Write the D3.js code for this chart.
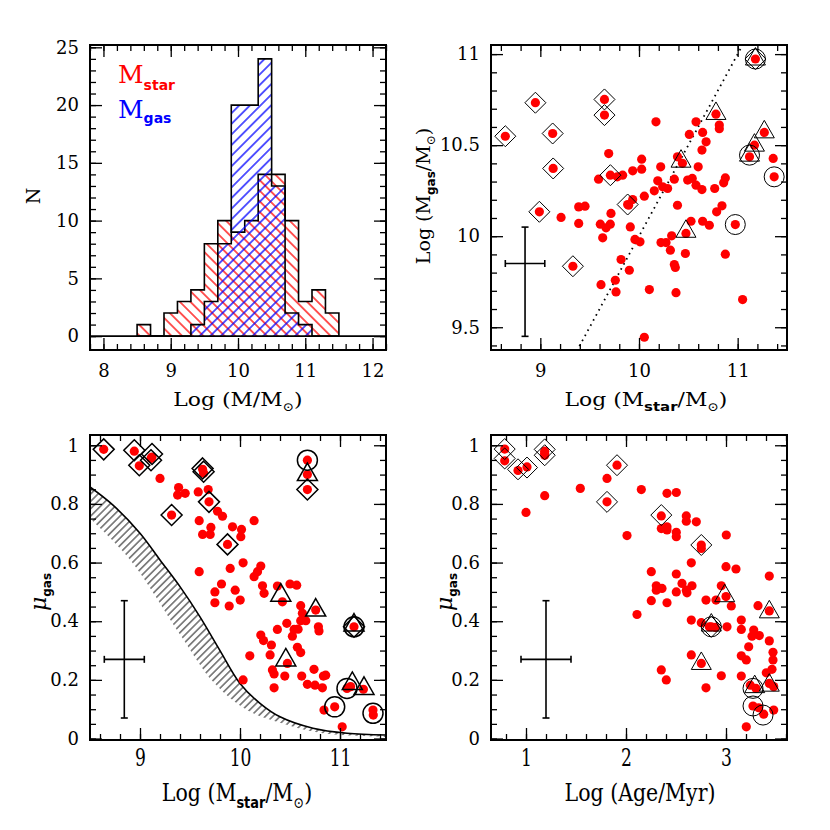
<!DOCTYPE html>
<html>
<head>
<meta charset="utf-8">
<script src="https://cdn.jsdelivr.net/npm/d3@7"></script>
<style>
  body { margin: 0; background: #fff; }
</style>
</head>
<body>
<svg id="chart" width="830" height="830"></svg>
<script>
// ---------- data ----------
// histogram (bin left edges, width 0.2 dex)
var binLeft = [8.5, 8.7, 8.9, 9.1, 9.3, 9.5, 9.7, 9.9, 10.1, 10.3, 10.5, 10.7, 10.9, 11.1, 11.3];
var binWidth = 0.2;
var starCounts = [1, 0, 2, 3, 4, 8, 10, 9, 10, 14, 14, 10, 3, 4, 2];
var gasCounts  = [0, 0, 0, 0, 1, 3, 8, 20, 20, 24, 13, 2, 1, 0, 0];

// Log Mstar vs Log Mgas
var mgasDots = [[8.645,10.549],[8.95,10.733],[9.125,10.564],[9.13,10.372],[8.99,10.134],[9.33,9.835],[9.65,10.751],[9.65,10.665],
  [9.71,10.335],[9.885,10.174],[11.18,10.973],[10.78,10.67],[10.44,10.40],[10.476,10.015],[11.17,10.5],[11.27,10.57],[11.12,10.436],
  [11.37,10.326],[10.976,10.064],[10.172,10.628],[9.693,10.454],[10.027,10.423],[10.027,10.368],[9.936,10.359],[9.834,10.335],
  [9.78,10.326],[9.59,10.313],[10.22,10.381],[10.39,10.436],[10.578,10.628],[10.51,10.559],[10.645,10.57],[10.68,10.518],
  [10.638,10.473],[10.6,10.381],[10.814,10.61],[10.814,10.59],[10.358,10.313],[10.19,10.304],[10.24,10.271],[10.155,10.249],
  [10.29,10.262],[10.493,10.308],[10.54,10.317],[10.578,10.28],[10.638,10.256],[10.875,10.32],[10.858,10.293],[10.767,10.262],
  [10.054,10.22],[9.936,10.201],[9.895,10.17],[10.39,10.17],[10.841,10.167],[10.787,10.134],[9.389,10.161],[9.453,10.165],
  [9.21,10.103],[9.389,10.07],[9.716,10.125],[9.608,10.066],[9.709,10.066],[9.666,10.046],[9.912,10.051],[9.632,9.991],
  [9.959,9.982],[10.01,9.969],[10.223,9.965],[10.274,9.965],[10.331,10.002],[10.318,9.923],[10.527,10.082],[10.645,10.082],
  [10.713,10.06],[10.47,9.905],[10.875,9.901],[10.358,9.844],[10.368,9.828],[9.818,9.872],[9.902,9.813],[9.76,9.758],
  [9.615,9.734],[9.767,9.694],[10.105,9.707],[10.375,9.69],[11.05,9.652],[10.054,9.445],[11.36,10.427]];
var mgasDiamonds = [[8.645,10.549],[8.95,10.733],[9.125,10.564],[9.13,10.372],[8.99,10.134],[9.33,9.835],[9.65,10.751],
  [9.65,10.665],[9.71,10.335],[9.885,10.174],[11.18,10.973]];
var mgasTriangles = [[10.78,10.674],[10.426,10.412],[10.476,10.027],[11.17,10.5],[11.27,10.573],[11.12,10.445],[11.18,10.973]];
var mgasCircles = [[11.12,10.445],[11.37,10.326],[10.976,10.064],[11.18,10.973]];
var mgasError = {x: 8.845, xlo: 8.645, xhi: 9.045, y: 9.85, ylo: 9.45, yhi: 10.05};
var oneToOne = [9.2, 11.2];

// Log Mstar vs mu_gas
var muMassDots = [[8.637,0.986],[8.943,0.98],[8.993,0.93],[9.12,0.96],[9.11,0.955],[9.626,0.918],[9.636,0.905],[9.69,0.807],
  [9.316,0.762],[9.875,0.662],[10.674,0.849],[11.14,0.381],[10.674,0.949],[10.674,0.9],[9.2,0.887],[9.386,0.856],[9.376,0.83],
  [9.452,0.836],[9.582,0.841],[9.682,0.849],[9.775,0.775],[9.825,0.758],[9.592,0.743],[9.709,0.72],[9.626,0.696],[9.702,0.696],
  [9.925,0.722],[10.015,0.713],[10.008,0.688],[10.141,0.743],[10.031,0.599],[9.902,0.58],[9.592,0.569],[10.208,0.588],
  [10.175,0.569],[10.141,0.552],[9.815,0.527],[9.749,0.5],[9.952,0.506],[10.225,0.521],[10.241,0.495],[10.002,0.472],
  [9.749,0.463],[9.892,0.452],[10.374,0.52],[10.5,0.527],[10.567,0.523],[10.424,0.466],[10.607,0.453],[10.624,0.427],
  [10.658,0.402],[10.607,0.402],[10.468,0.393],[10.541,0.372],[10.581,0.373],[10.374,0.372],[10.524,0.349],[10.784,0.381],
  [10.79,0.367],[10.208,0.353],[10.235,0.334],[10.314,0.319],[10.574,0.311],[10.607,0.293],[10.301,0.285],[10.098,0.282],
  [10.474,0.256],[10.324,0.234],[10.341,0.22],[10.448,0.213],[10.617,0.213],[10.74,0.236],[10.834,0.213],[10.857,0.216],
  [10.674,0.185],[10.75,0.182],[10.824,0.173],[10.341,0.173],[10.031,0.2],[10.84,0.097],[10.947,0.108],[11.022,0.04],
  [11.07,0.171],[11.106,0.177],[11.234,0.168],[11.33,0.097],[11.333,0.08],[10.757,0.438]];
var muMassDiamonds = [[8.637,0.986],[8.943,0.983],[8.993,0.932],[9.12,0.97],[9.11,0.949],[9.626,0.921],[9.636,0.91],
  [9.69,0.807],[9.316,0.762],[9.875,0.662],[10.674,0.849],[11.14,0.381]];
var muMassTriangles = [[10.674,0.9],[10.408,0.489],[10.757,0.438],[10.458,0.268],[11.123,0.188],[11.24,0.171],[11.14,0.387]];
var muMassCircles = [[10.674,0.949],[11.14,0.381],[11.07,0.171],[10.947,0.108],[11.33,0.086]];
var muMassError = {x: 8.843, xlo: 8.643, xhi: 9.043, y: 0.27, ylo: 0.07, yhi: 0.47};
// model curve and lower edge of the hatched band
var modelMass = [8.5, 8.73, 9.0, 9.2, 9.4, 9.6, 9.8, 10.0, 10.2, 10.4, 10.73, 11.07, 11.46];
var modelMu   = [0.858, 0.796, 0.70, 0.609, 0.518, 0.415, 0.30, 0.188, 0.12, 0.074, 0.035, 0.018, 0.012];
var bandMass  = [8.5, 8.9, 9.41, 9.74, 10.07, 10.41, 10.74, 11.1, 11.46];
var bandMu    = [0.75, 0.61, 0.35, 0.19, 0.097, 0.053, 0.023, 0.01, 0.005];

// Log Age vs mu_gas
var muAgeDots = [[0.787,0.987],[0.787,0.947],[0.92,0.914],[1.01,0.926],[1.187,0.98],[1.187,0.966],[1.187,0.972],[1.543,0.853],
  [1.187,0.828],[1.0,0.771],[1.81,0.887],[1.91,0.932],[1.81,0.807],[2.153,0.849],[2.41,0.836],[2.503,0.839],[2.353,0.759],
  [2.01,0.692],[2.353,0.716],[2.41,0.722],[2.41,0.711],[2.503,0.703],[2.503,0.688],[2.603,0.759],[2.603,0.741],[2.703,0.739],
  [2.753,0.66],[2.753,0.648],[3.003,0.694],[2.653,0.599],[3.0,0.586],[3.1,0.578],[3.433,0.554],[2.253,0.569],[2.303,0.521],
  [2.303,0.506],[2.36,0.512],[2.503,0.561],[2.56,0.529],[2.603,0.506],[2.66,0.521],[2.503,0.5],[2.61,0.497],[2.253,0.47],
  [2.41,0.463],[2.8,0.472],[2.9,0.472],[2.953,0.521],[3.0,0.484],[3.053,0.452],[2.11,0.423],[3.32,0.453],[3.433,0.435],
  [2.653,0.404],[2.753,0.395],[2.833,0.381],[2.893,0.379],[3.01,0.381],[3.153,0.404],[3.153,0.372],[3.277,0.37],[3.26,0.349],
  [3.333,0.351],[3.433,0.333],[3.227,0.313],[3.153,0.282],[3.203,0.268],[3.47,0.294],[3.47,0.268],[3.46,0.236],[3.403,0.224],
  [2.653,0.285],[2.753,0.256],[2.353,0.234],[2.403,0.2],[2.953,0.214],[3.153,0.213],[2.8,0.173],[3.243,0.182],[3.3,0.171],
  [3.433,0.188],[3.477,0.177],[3.27,0.111],[3.327,0.105],[3.377,0.083],[3.477,0.097],[3.203,0.04],[2.853,0.381]];
var muAgeDiamonds = [[0.787,0.987],[0.787,0.955],[0.92,0.918],[1.01,0.924],[1.187,0.986],[1.187,0.966],[1.91,0.932],
  [1.81,0.807],[2.353,0.762],[2.753,0.66],[2.853,0.381]];
var muAgeTriangles = [[2.987,0.487],[2.753,0.256],[3.433,0.432],[3.287,0.177],[3.433,0.182],[2.853,0.387]];
var muAgeCircles = [[2.853,0.381],[3.27,0.111],[3.37,0.08],[3.27,0.171]];
var muAgeError = {x: 1.2, xlo: 0.95, xhi: 1.45, y: 0.27, ylo: 0.07, yhi: 0.47};

// ticks
var histXTicks = [8, 9, 10, 11, 12];
var histYTicks = [0, 5, 10, 15, 20, 25];
var massXTicks = [9, 10, 11];
var mgasYTicks = [9.5, 10, 10.5, 11];
var muTicks = [0, 0.2, 0.4, 0.6, 0.8, 1];
var ageXTicks = [1, 2, 3];

// ---------- drawing ----------
var svg = d3.select("#chart");
svg.append("rect").attr("width", 830).attr("height", 830).attr("fill", "#fff");
var defs = svg.append("defs");

function hatch(id, color, angle, gap, width) {
  var p = defs.append("pattern").attr("id", id).attr("patternUnits", "userSpaceOnUse")
    .attr("width", gap).attr("height", gap).attr("patternTransform", "rotate(" + angle + ")");
  p.append("line").attr("x1", gap / 2).attr("y1", 0).attr("x2", gap / 2).attr("y2", gap)
    .attr("stroke", color).attr("stroke-width", width);
}
hatch("redHatch", "#ff0000", -45, 7.5, 1.3);
hatch("blueHatch", "#0000ff", 45, 7.5, 1.3);
hatch("bandHatch", "#000", 45, 5.2, 0.9);

function clip(id, x, y) {
  defs.append("clipPath").attr("id", id).append("rect")
    .attr("x", x.range()[0]).attr("y", y.range()[1])
    .attr("width", x.range()[1] - x.range()[0]).attr("height", y.range()[0] - y.range()[1]);
}

var minor = function (a, b, s) { return d3.range(0, Math.round((b - a) / s) + 1).map(function (i) { return +(a + i * s).toFixed(3); }); };

function drawAxes(x, y, o) {
  var r = x.range(), t = y.range();
  var g = svg.append("g");
  function add(axis, tx, ty) {
    var a = g.append("g").attr("transform", "translate(" + tx + "," + ty + ")").call(axis);
    a.select(".domain").remove();
    a.selectAll("line").attr("stroke", "#000").attr("stroke-width", 1.3);
    return a;
  }
  add(d3.axisBottom(x).tickValues(o.xMinor).tickSize(-6).tickFormat(""), 0, t[0]);
  add(d3.axisTop(x).tickValues(o.xMinor).tickSize(-6).tickFormat(""), 0, t[1]);
  add(d3.axisLeft(y).tickValues(o.yMinor).tickSize(-6).tickFormat(""), r[0], 0);
  add(d3.axisRight(y).tickValues(o.yMinor).tickSize(-6).tickFormat(""), r[1], 0);
  var xb = add(d3.axisBottom(x).tickValues(o.xMajor).tickSize(-12).tickPadding(14).tickFormat(String), 0, t[0]);
  add(d3.axisTop(x).tickValues(o.xMajor).tickSize(-12).tickFormat(""), 0, t[1]);
  add(d3.axisLeft(y).tickValues(o.yMajor).tickSize(-12).tickPadding(11).tickFormat(String), r[0], 0);
  add(d3.axisRight(y).tickValues(o.yMajor).tickSize(-12).tickFormat(""), r[1], 0);
  g.selectAll("text").attr("font-family", "DejaVu Serif").attr("font-size", 18).attr("fill", "#000");
  if (o.stretch) {
    xb.selectAll("text").attr("transform", "scale(0.95,1.3)").attr("y", 7);
  }
  g.append("rect").attr("x", r[0]).attr("y", t[1]).attr("width", r[1] - r[0]).attr("height", t[0] - t[1])
    .attr("fill", "none").attr("stroke", "#000").attr("stroke-width", 2);
}

function label(tr, parts, size, color, anchor) {
  var t = svg.append("text").attr("transform", tr).attr("text-anchor", anchor || "middle")
    .attr("font-family", "DejaVu Serif").attr("font-size", size).attr("fill", color || "#000");
  var shift = 0;
  parts.forEach(function (p) {
    var s = t.append("tspan").text(p.t);
    var want = p.sub || 0;
    if (want !== shift) { s.attr("dy", want - shift); shift = want; }
    if (p.size) s.attr("font-size", p.size);
    if (p.sans) s.attr("font-family", "DejaVu Sans").attr("font-weight", "bold");
    if (p.italic) s.attr("font-style", "italic");
  });
  return t;
}

function scatter(x, y, cid, dots, diamonds, triangles, circles, sw) {
  var g = svg.append("g").attr("clip-path", "url(#" + cid + ")");
  g.selectAll(".dot").data(dots).enter().append("circle")
    .attr("cx", function (d) { return x(d[0]); }).attr("cy", function (d) { return y(d[1]); })
    .attr("r", 4.6).attr("fill", "#ff0000");
  g.selectAll(".dia").data(diamonds).enter().append("path")
    .attr("d", "M0,-10.5L10.5,0L0,10.5L-10.5,0Z")
    .attr("transform", function (d) { return "translate(" + x(d[0]) + "," + y(d[1]) + ")"; })
    .attr("fill", "none").attr("stroke", "#000").attr("stroke-width", sw);
  g.selectAll(".tri").data(triangles).enter().append("path")
    .attr("d", "M0,-11.5L10,6L-10,6Z")
    .attr("transform", function (d) { return "translate(" + x(d[0]) + "," + y(d[1]) + ")"; })
    .attr("fill", "none").attr("stroke", "#000").attr("stroke-width", sw);
  g.selectAll(".cir").data(circles).enter().append("circle")
    .attr("cx", function (d) { return x(d[0]); }).attr("cy", function (d) { return y(d[1]); })
    .attr("r", 10).attr("fill", "none").attr("stroke", "#000").attr("stroke-width", sw);
}

function errorCross(x, y, e) {
  var g = svg.append("g").attr("stroke", "#000").attr("stroke-width", 1.6);
  var cx = x(e.x), cy = y(e.y), xl = x(e.xlo), xr = x(e.xhi), yt = y(e.yhi), yb = y(e.ylo);
  g.append("line").attr("x1", xl).attr("x2", xr).attr("y1", cy).attr("y2", cy);
  g.append("line").attr("x1", cx).attr("x2", cx).attr("y1", yt).attr("y2", yb);
  [xl, xr].forEach(function (v) { g.append("line").attr("x1", v).attr("x2", v).attr("y1", cy - 3.5).attr("y2", cy + 3.5); });
  [yt, yb].forEach(function (v) { g.append("line").attr("x1", cx - 3.5).attr("x2", cx + 3.5).attr("y1", v).attr("y2", v); });
}

var sun = "\u2299";

// ---- panel 1: histogram ----
var xH = d3.scaleLinear().domain([7.8, 12.2]).range([90, 386]);
var yH = d3.scaleLinear().domain([-1.2, 25.2]).range([350, 45]);
clip("c1", xH, yH);

function stepPath(counts) {
  var pts = [[binLeft[0], 0]];
  counts.forEach(function (c, i) { pts.push([binLeft[i], c]); pts.push([binLeft[i] + binWidth, c]); });
  pts.push([binLeft[binLeft.length - 1] + binWidth, 0]);
  return d3.line().x(function (d) { return xH(d[0]); }).y(function (d) { return yH(d[1]); })(pts);
}
var h = svg.append("g").attr("clip-path", "url(#c1)");
h.append("path").attr("d", stepPath(starCounts)).attr("fill", "url(#redHatch)").attr("stroke", "#000").attr("stroke-width", 1.6);
h.append("path").attr("d", stepPath(gasCounts)).attr("fill", "url(#blueHatch)").attr("stroke", "#000").attr("stroke-width", 1.6);
h.append("line").attr("x1", xH(7.8)).attr("x2", xH(12.2)).attr("y1", yH(0)).attr("y2", yH(0)).attr("stroke", "#000").attr("stroke-width", 1.6);

drawAxes(xH, yH, { xMajor: histXTicks, xMinor: minor(7.8, 12.2, 0.2), yMajor: histYTicks, yMinor: minor(0, 25, 1) });

label("translate(118,83)", [{ t: "M" }, { t: "star", sub: 7, size: 14, sans: true }], 25, "#ff0000", "start");
label("translate(118,118)", [{ t: "M" }, { t: "gas", sub: 5, size: 14, sans: true }], 25, "#0000ff", "start");
label("translate(238,406) scale(1.15,1)", [{ t: "Log (M/M" }, { t: sun, sub: 5, size: 12 }, { t: ")" }], 19);
label("translate(40,196) rotate(-90)", [{ t: "N" }], 19);

// ---- panel 2: Mstar vs Mgas ----
var xA = d3.scaleLinear().domain([8.5, 11.5]).range([491, 787]);
var yA = d3.scaleLinear().domain([9.375, 11.05]).range([350, 45]);
clip("c2", xA, yA);
svg.append("path").attr("clip-path", "url(#c2)")
  .attr("d", d3.line().x(function (d) { return xA(d); }).y(function (d) { return yA(d); })(oneToOne))
  .attr("fill", "none").attr("stroke", "#000").attr("stroke-width", 1.8).attr("stroke-dasharray", "1.6,4.2");
scatter(xA, yA, "c2", mgasDots, mgasDiamonds, mgasTriangles, mgasCircles, 1);
errorCross(xA, yA, mgasError);
drawAxes(xA, yA, { xMajor: massXTicks, xMinor: minor(8.6, 11.4, 0.2), yMajor: mgasYTicks, yMinor: minor(9.4, 11.0, 0.1) });
label("translate(646,406) scale(1.15,1)", [{ t: "Log (M" }, { t: "star", sub: 5, size: 13, sans: true }, { t: "/M" }, { t: sun, sub: 5, size: 12 }, { t: ")" }], 19);
label("translate(430,196) rotate(-90)", [{ t: "Log (M" }, { t: "gas", sub: 5, size: 12, sans: true }, { t: "/M" }, { t: sun, sub: 5, size: 12 }, { t: ")" }], 19);

// ---- panel 3: Mstar vs mu_gas ----
var xB = d3.scaleLinear().domain([8.5, 11.46]).range([90, 386]);
var yB = d3.scaleLinear().domain([-0.005, 1.035]).range([740, 435]);
clip("c3", xB, yB);
var curveLine = d3.line().x(function (d) { return xB(d[0]); }).y(function (d) { return yB(d[1]); }).curve(d3.curveCatmullRom);
var upper = modelMass.map(function (m, i) { return [m, modelMu[i]]; });
var lower = bandMass.map(function (m, i) { return [m, bandMu[i]]; }).reverse();
var bandPath = curveLine(upper) + "L" + curveLine(lower).slice(1) + "Z";
svg.append("path").attr("clip-path", "url(#c3)").attr("d", bandPath).attr("fill", "url(#bandHatch)").attr("stroke", "none");
svg.append("path").attr("clip-path", "url(#c3)").attr("d", curveLine(upper)).attr("fill", "none").attr("stroke", "#000").attr("stroke-width", 1.6);
scatter(xB, yB, "c3", muMassDots, muMassDiamonds, muMassTriangles, muMassCircles, 1.5);
errorCross(xB, yB, muMassError);
drawAxes(xB, yB, { xMajor: massXTicks, xMinor: minor(8.6, 11.4, 0.2), yMajor: muTicks, yMinor: minor(0, 1, 0.05), stretch: true });
label("translate(237,801) scale(1.08,1.3)", [{ t: "Log (M" }, { t: "star", sub: 5, size: 12, sans: true }, { t: "/M" }, { t: sun, sub: 5, size: 12 }, { t: ")" }], 19);
label("translate(46,592) rotate(-90)", [{ t: "\u03bc", italic: true, size: 22 }, { t: "gas", sub: 5, size: 12, sans: true }], 19);

// ---- panel 4: Age vs mu_gas ----
var xC = d3.scaleLinear().domain([0.65, 3.61]).range([491, 787]);
var yC = d3.scaleLinear().domain([-0.005, 1.035]).range([740, 435]);
clip("c4", xC, yC);
scatter(xC, yC, "c4", muAgeDots, muAgeDiamonds, muAgeTriangles, muAgeCircles, 1);
errorCross(xC, yC, muAgeError);
drawAxes(xC, yC, { xMajor: ageXTicks, xMinor: minor(0.8, 3.6, 0.2), yMajor: muTicks, yMinor: minor(0, 1, 0.05), stretch: true });
label("translate(640,801) scale(1.08,1.3)", [{ t: "Log (Age/Myr)" }], 19);
label("translate(452,592) rotate(-90)", [{ t: "\u03bc", italic: true, size: 22 }, { t: "gas", sub: 5, size: 12, sans: true }], 19);
</script>
</body>
</html>
